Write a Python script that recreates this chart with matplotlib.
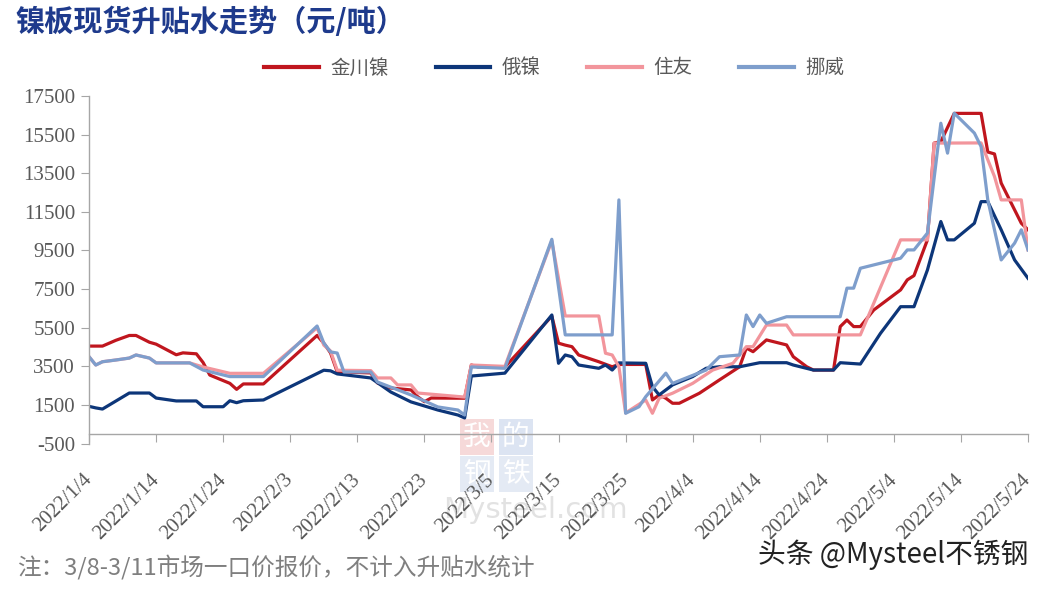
import matplotlib
matplotlib.use('Agg')
import matplotlib.pyplot as plt
import pandas as pd

plt.rcParams['axes.unicode_minus'] = False

CJK = ['Noto Sans CJK SC', 'DejaVu Sans']
NUM = ['Liberation Serif', 'DejaVu Serif']

# 金川镍
jc_dates = ['1-4', '1-6', '1-8', '1-10', '1-11', '1-13', '1-14', '1-17', '1-18', '1-20',
            '1-21', '1-22', '1-25', '1-26', '1-27', '1-30', '2-7', '2-8', '2-9', '2-10',
            '2-15', '2-16', '2-18', '2-21', '2-22', '2-23', '2-24', '3-1', '3-2', '3-3',
            '3-7', '3-14', '3-15', '3-16', '3-17', '3-18', '3-21', '3-23', '3-24', '3-28',
            '3-29', '3-30', '3-31', '4-1', '4-2', '4-5', '4-8', '4-11', '4-12', '4-13',
            '4-15', '4-18', '4-19', '4-21', '4-22', '4-25', '4-26', '4-27', '4-28', '4-29',
            '5-1', '5-5', '5-6', '5-7', '5-9', '5-10', '5-11', '5-13', '5-17', '5-18',
            '5-19', '5-20', '5-23', '5-24']
jc_vals = [4550, 4550, 4850, 5100, 5100, 4750, 4650, 4100, 4200, 4150,
           3700, 3050, 2620, 2310, 2590, 2590, 5100, 4700, 4200, 3220,
           3160, 2640, 2380, 2280, 1930, 1670, 1860, 1850, 3570, 3470,
           3470, 6100, 4700, 4600, 4520, 4090, 3740, 3480, 3600, 3600,
           1760, 2020, 1850, 1590, 1590, 2110, 2800, 3480, 4450, 4260,
           4870, 4610, 4000, 3480, 3310, 3310, 5560, 5900, 5560, 5560,
           6420, 7460, 7980, 8200, 10050, 15060, 15140, 16600, 16600, 14600,
           14500, 12990, 10910, 10570]

# 俄镍
ru_dates = ['1-4', '1-5', '1-6', '1-10', '1-13', '1-14', '1-17', '1-20', '1-21', '1-24',
            '1-25', '1-26', '1-27', '1-30', '2-8', '2-9', '2-10', '2-15', '2-18', '2-21',
            '2-25', '2-28', '3-1', '3-2', '3-7', '3-14', '3-15', '3-16', '3-17', '3-18',
            '3-21', '3-22', '3-23', '3-24', '3-28', '3-29', '3-30', '4-1', '4-4', '4-6',
            '4-8', '4-11', '4-14', '4-18', '4-19', '4-22', '4-25', '4-26', '4-29', '5-2',
            '5-5', '5-7', '5-9', '5-11', '5-12', '5-13', '5-16', '5-17', '5-18', '5-20',
            '5-22', '5-24']
ru_vals = [1430, 1350, 1290, 2120, 2120, 1860, 1710, 1710, 1410, 1410,
           1720, 1620, 1720, 1760, 3300, 3270, 3110, 2900, 2170, 1660,
           1240, 980, 830, 3000, 3150, 6160, 3660, 4090, 4000, 3570,
           3400, 3570, 3310, 3680, 3660, 2450, 2020, 2540, 2970, 3400,
           3480, 3480, 3690, 3690, 3570, 3310, 3310, 3690, 3620, 5210,
           6590, 6590, 8490, 11000, 10050, 10050, 10910, 12030, 12030, 10570,
           9010, 8060]

# 住友
zy_dates = ['1-4', '1-5', '1-6', '1-8', '1-10', '1-11', '1-13', '1-14', '1-19', '1-21',
            '1-25', '1-30', '2-7', '2-8', '2-9', '2-10', '2-15', '2-16', '2-18', '2-19',
            '2-21', '2-22', '3-1', '3-2', '3-7', '3-14', '3-16', '3-21', '3-22', '3-23',
            '3-24', '3-25', '3-28', '3-29', '3-30', '4-1', '4-4', '4-7', '4-10', '4-12',
            '4-13', '4-15', '4-18', '4-19', '4-29', '5-5', '5-9', '5-10', '5-17', '5-19',
            '5-20', '5-23', '5-24']
zy_vals = [4000, 3570, 3740, 3830, 3930, 4090, 3930, 3680, 3680, 3470,
           3140, 3140, 5500, 4600, 4300, 3300, 3280, 2900, 2900, 2540,
           2540, 2120, 1910, 3570, 3500, 10000, 6110, 6110, 4180, 4090,
           3480, 1090, 1760, 1070, 1850, 2110, 2620, 3310, 3660, 4520,
           4520, 5640, 5640, 5130, 5130, 10050, 10050, 15060, 15070, 13330,
           12120, 12120, 9530]

# 挪威
nw_dates = ['1-4', '1-5', '1-6', '1-8', '1-10', '1-11', '1-13', '1-14', '1-19', '1-21',
            '1-25', '1-30', '2-7', '2-8', '2-9', '2-10', '2-11', '2-15', '2-16', '2-21',
            '2-25', '2-28', '3-1', '3-2', '3-7', '3-14', '3-16', '3-23', '3-24', '3-25',
            '3-27', '3-28', '3-31', '4-1', '4-6', '4-8', '4-11', '4-12', '4-13', '4-14',
            '4-15', '4-18', '4-26', '4-27', '4-28', '4-29', '5-5', '5-6', '5-7', '5-9',
            '5-11', '5-12', '5-13', '5-16', '5-17', '5-18', '5-20', '5-22', '5-23', '5-24']
nw_vals = [4000, 3570, 3740, 3830, 3930, 4090, 3930, 3680, 3680, 3310,
           2970, 2970, 5590, 4710, 4250, 4190, 3210, 3210, 2690, 2020,
           1400, 1240, 980, 3470, 3400, 10080, 5130, 5130, 12120, 1070,
           1410, 1930, 3150, 2620, 3310, 4000, 4090, 6160, 5560, 6160,
           5730, 6070, 6070, 7550, 7550, 8580, 9100, 9530, 9530, 10400,
           16090, 14540, 16610, 15580, 14880, 12120, 9010, 9880, 10570, 9530]

names = ['金川镍', '俄镍', '住友', '挪威']
colors = ['#C0161E', '#0D3679', '#F2959C', '#7E9ECC']


def to_dt(days):
    return pd.to_datetime(['2022-' + d for d in days], format='%Y-%m-%d')


def main():
    fig = plt.figure(figsize=(10.44, 5.90), dpi=100)
    fig.patch.set_facecolor('white')
    ax = fig.add_axes([0.0853, 0.2481, 0.8994, 0.5892])

    # axis line crosses at 0 (set before ticks, it resets them)
    ax.spines['bottom'].set_position(('data', 0))
    ax.spines[['top', 'right']].set_visible(False)
    for s in ['left', 'bottom']:
        ax.spines[s].set_color('#A6A6A6')
        ax.spines[s].set_linewidth(1)

    # faint site watermark behind the lines
    for ch, x, y, fc in [('我', 477, 437, '#F6D9D9'), ('的', 516, 437, '#DCE4F2'),
                         ('钢', 477, 474, '#E4EAF4'), ('铁', 516, 474, '#E4EAF4')]:
        ax.text(x / 1044, 1 - y / 590, ch, transform=fig.transFigure, fontsize=20,
                color='white', ha='center', va='center', family=CJK, zorder=0,
                clip_on=False,
                bbox=dict(boxstyle='square,pad=0.12', fc=fc, ec='none'))
    ax.text(535 / 1044, 1 - 510 / 590, 'Mysteel.com', transform=fig.transFigure,
            fontsize=21, color='#E2E2E2', ha='center', va='center', zorder=0,
            clip_on=False, family=['DejaVu Sans'])

    all_series = [(jc_dates, jc_vals), (ru_dates, ru_vals),
                  (zy_dates, zy_vals), (nw_dates, nw_vals)]
    for (d, v), name, c in zip(all_series, names, colors):
        ax.plot(to_dt(d), v, color=c, lw=2.3, label=name, zorder=2,
                solid_joinstyle='round')

    ax.set_ylim(-500, 17500)
    ax.set_yticks(range(-500, 17501, 2000))
    ax.set_xlim(pd.Timestamp('2022-01-04'), pd.Timestamp('2022-05-24'))
    ticks = pd.date_range('2022-01-04', '2022-05-24', freq='10D')
    ax.set_xticks(ticks)
    ax.set_xticklabels([f'{t.year}/{t.month}/{t.day}' for t in ticks])

    ax.tick_params(axis='both', length=6, color='#A6A6A6', labelcolor='#595959',
                   labelsize=15)
    ax.tick_params(axis='x', pad=25)
    ax.tick_params(axis='y', pad=4)
    for lab in ax.get_xticklabels():
        lab.set_rotation(45)
        lab.set_ha('right')
        lab.set_va('center')
        lab.set_rotation_mode('anchor')
    for lab in ax.get_xticklabels() + ax.get_yticklabels():
        lab.set_family(NUM)

    fig.text(15 / 1044, 1 - 22 / 590, '镍板现货升贴水走势（元/吨）', fontsize=21,
             fontweight='bold', color='#1E3A8C', family=CJK, va='center')

    leg = fig.legend(loc='center', bbox_to_anchor=(0.531, 0.885), ncol=4,
                     frameon=False, handlelength=2.8, handletextpad=0.6,
                     columnspacing=2.4, prop={'family': CJK, 'size': 14},
                     labelcolor='#595959')
    for line in leg.get_lines():
        line.set_linewidth(3)

    fig.text(17 / 1044, 1 - 568 / 590, '注：3/8-3/11市场一口价报价，不计入升贴水统计',
             fontsize=17, color='#7F7F7F', family=CJK, va='center')
    fig.text(1028 / 1044, 1 - 555 / 590, '头条 @Mysteel不锈钢', fontsize=20,
             color='#222222', family=CJK, va='center', ha='right')

    fig.savefig('out.png', dpi=100, facecolor='white')


if __name__ == '__main__':
    main()
